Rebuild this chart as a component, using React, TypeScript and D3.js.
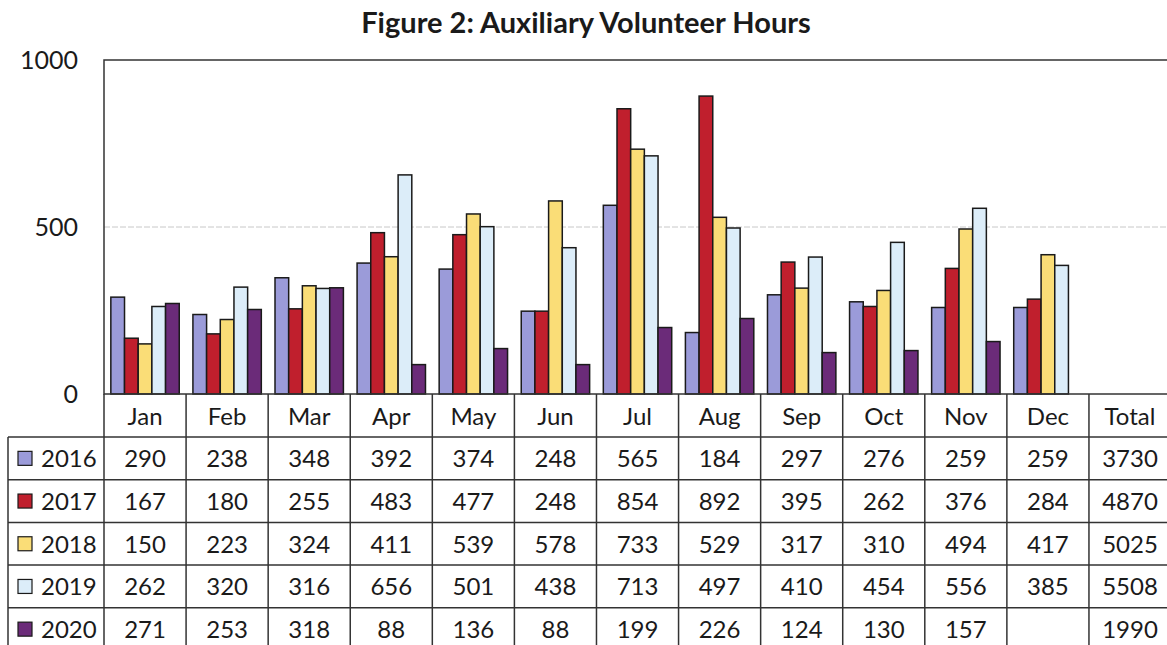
import React, { useCallback, useEffect, useRef } from 'react';
import * as d3 from 'd3';

const months = ['Jan', 'Feb', 'Mar', 'Apr', 'May', 'Jun', 'Jul', 'Aug', 'Sep', 'Oct', 'Nov', 'Dec'];
const years = ['2016', '2017', '2018', '2019', '2020'];

const hours2016 = [290, 238, 348, 392, 374, 248, 565, 184, 297, 276, 259, 259];
const hours2017 = [167, 180, 255, 483, 477, 248, 854, 892, 395, 262, 376, 284];
const hours2018 = [150, 223, 324, 411, 539, 578, 733, 529, 317, 310, 494, 417];
const hours2019 = [262, 320, 316, 656, 501, 438, 713, 497, 410, 454, 556, 385];
const hours2020 = [271, 253, 318, 88, 136, 88, 199, 226, 124, 130, 157, null];

const totals = [3730, 4870, 5025, 5508, 1990];
const yTicks = [0, 500, 1000];

const colors = ['#9b9bd9', '#c01f2d', '#fadd77', '#dcedf9', '#6b2b79'];
const series = [hours2016, hours2017, hours2018, hours2019, hours2020];

const FONT = 'Lato, "Open Sans", sans-serif';
const INK = '#1a1a1a';

const AuxChart = () => {
  const svgRef = useRef<SVGSVGElement | null>(null);

  const drawChart = useCallback(() => {
    const svg = d3.select(svgRef.current);
    const left = 104;
    const top = 60;
    const bottom = 394;
    const colW = 82.08;
    const right = left + colW * 13;
    const rowH = 42.7;
    const headerH = 43;
    const tableLeft = 8;

    const x = d3.scaleBand<string>().domain(months).range([left, left + colW * 12]).padding(0);
    const xs = d3.scaleBand<string>().domain(years).range([0, x.bandwidth()]).paddingInner(0).paddingOuter(0.5);
    const y = d3.scaleLinear().domain([0, 1000]).range([bottom, top]);

    svg
      .append('text')
      .attr('x', 586)
      .attr('y', 33)
      .attr('text-anchor', 'middle')
      .attr('font-family', FONT)
      .attr('font-weight', 'bold')
      .attr('font-size', '29px')
      .attr('fill', INK)
      .text('Figure 2: Auxiliary Volunteer Hours');

    // gridline
    svg
      .append('line')
      .attr('x1', left)
      .attr('x2', right)
      .attr('y1', y(500))
      .attr('y2', y(500))
      .attr('stroke', '#c8c8c8')
      .attr('stroke-dasharray', '6,2');

    // y labels
    svg
      .selectAll('.ylab')
      .data(yTicks)
      .enter()
      .append('text')
      .attr('class', 'ylab')
      .attr('x', 78)
      .attr('y', (d) => y(d) + 9)
      .attr('text-anchor', 'end')
      .attr('font-family', FONT)
      .attr('font-size', '25px')
      .attr('fill', INK)
      .text((d) => d);

    // bars
    series.forEach((vals, si) => {
      svg
        .selectAll(`.bar-${si}`)
        .data(months.map((m, i) => ({ m, v: vals[i] })).filter((d) => d.v != null))
        .enter()
        .append('rect')
        .attr('class', `bar-${si}`)
        .attr('x', (d) => (x(d.m) as number) + (xs(years[si]) as number))
        .attr('y', (d) => y(d.v as number))
        .attr('width', xs.bandwidth())
        .attr('height', (d) => bottom - y(d.v as number))
        .attr('fill', colors[si])
        .attr('stroke', INK)
        .attr('stroke-width', 1.5);
    });

    // plot border
    svg
      .append('rect')
      .attr('x', left)
      .attr('y', top)
      .attr('width', right - left)
      .attr('height', bottom - top)
      .attr('fill', 'none')
      .attr('stroke', '#333')
      .attr('stroke-width', 1.5);

    const tableTop = bottom + headerH;
    const tableBottom = tableTop + rowH * years.length;
    const lines = svg.append('g').attr('stroke', '#333').attr('stroke-width', 1.5);

    // vertical lines
    d3.range(14).forEach((i) => {
      lines
        .append('line')
        .attr('x1', left + i * colW)
        .attr('x2', left + i * colW)
        .attr('y1', bottom)
        .attr('y2', tableBottom);
    });
    lines
      .append('line')
      .attr('x1', tableLeft)
      .attr('x2', tableLeft)
      .attr('y1', tableTop)
      .attr('y2', tableBottom);

    // horizontal lines
    d3.range(years.length + 1).forEach((i) => {
      lines
        .append('line')
        .attr('x1', tableLeft)
        .attr('x2', right)
        .attr('y1', tableTop + i * rowH)
        .attr('y2', tableTop + i * rowH);
    });

    const cols = [...months, 'Total'];
    const cellText = (cx: number, cy: number, t: string) =>
      svg
        .append('text')
        .attr('x', cx)
        .attr('y', cy + 9)
        .attr('text-anchor', 'middle')
        .attr('font-family', FONT)
        .attr('font-size', '24px')
        .attr('fill', INK)
        .text(t);

    cols.forEach((c, i) => cellText(left + (i + 0.5) * colW, bottom + headerH / 2, c));

    years.forEach((yr, r) => {
      const cy = tableTop + (r + 0.5) * rowH;
      svg
        .append('rect')
        .attr('x', 18)
        .attr('y', cy - 7)
        .attr('width', 14)
        .attr('height', 14)
        .attr('fill', colors[r])
        .attr('stroke', INK)
        .attr('stroke-width', 1.2);
      svg
        .append('text')
        .attr('x', 41)
        .attr('y', cy + 9)
        .attr('font-family', FONT)
        .attr('font-size', '24px')
        .attr('fill', INK)
        .text(yr);
      series[r].forEach((v, i) => {
        if (v != null) cellText(left + (i + 0.5) * colW, cy, String(v));
      });
      cellText(left + 12.5 * colW, cy, String(totals[r]));
    });
  }, []);

  useEffect(() => {
    drawChart();
    return () => {
      d3.select(svgRef.current).selectAll('*').remove();
    };
  }, [drawChart]);

  return <svg ref={svgRef} width={1167} height={645} style={{ display: 'block', background: '#fff' }} />;
};

export default function App() {
  return (
    <div style={{ position: 'fixed', left: 0, top: 0, width: 1167, height: 645, overflow: 'hidden', background: '#fff' }}>
      <AuxChart />
    </div>
  );
}
